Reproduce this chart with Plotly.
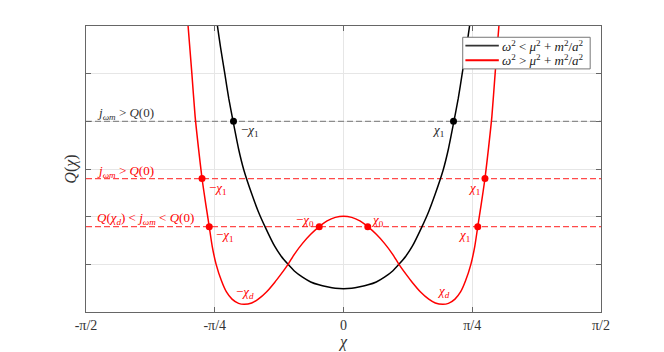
import math
import plotly.graph_objects as go

PI = math.pi

# ---- data (x in radians, y in axis units) ----
black_half_x = [0.0, 0.05, 0.10, 0.15, 0.20, 0.25, 0.30, 0.338, 0.38, 0.42, 0.476, 0.52, 0.56, 0.608,
                0.64, 0.673, 0.70, 0.724, 0.75, 0.769, 0.78]
black_half_y = [0.49, 0.50, 0.53, 0.57, 0.63, 0.73, 0.86, 1.00, 1.17, 1.38, 1.77, 2.11, 2.48, 2.98,
                3.42, 3.99, 4.48, 5.00, 5.55, 6.00, 6.30]

red_half_x = [0.0, 0.05, 0.10, 0.148, 0.20, 0.25, 0.30, 0.338, 0.38, 0.42, 0.47, 0.52, 0.56, 0.605,
              0.64, 0.68, 0.714, 0.745, 0.777, 0.80, 0.819, 0.84, 0.863, 0.885, 0.905, 0.925, 0.948, 0.96]
red_half_y = [2.01, 1.985, 1.91, 1.79, 1.63, 1.44, 1.21, 1.00, 0.80, 0.62, 0.42, 0.27, 0.19, 0.16,
              0.18, 0.27, 0.42, 0.66, 1.00, 1.36, 1.79, 2.26, 2.80, 3.45, 4.10, 5.00, 6.00, 6.50]

level_black = 4.0
level_red_hi = 2.80
level_red_lo = 1.79

black_pts_x = [-0.671, 0.671]
black_pts_y = [4.0, 4.0]
red_pts_x = [-0.863, 0.863, -0.819, 0.819, -0.148, 0.148]
red_pts_y = [2.80, 2.80, 1.79, 1.79, 1.79, 1.79]

x_tickvals = [-PI / 2, -PI / 4, 0, PI / 4, PI / 2]
x_ticktext = ["-π/2", "-π/4", "0", "π/4", "π/2"]
y_tickvals = [1, 2, 3, 4, 5]

series_names = [
    "<i>ω</i><sup>2</sup> < <i>μ</i><sup>2</sup> + <i>m</i><sup>2</sup>/<i>a</i><sup>2</sup>",
    "<i>ω</i><sup>2</sup> > <i>μ</i><sup>2</sup> + <i>m</i><sup>2</sup>/<i>a</i><sup>2</sup>",
]

# the curves are symmetric: mirror the read half
black_x = [-v for v in black_half_x[:0:-1]] + black_half_x
black_y = black_half_y[:0:-1] + black_half_y
red_x = [-v for v in red_half_x[:0:-1]] + red_half_x
red_y = red_half_y[:0:-1] + red_half_y

SERIF = "Liberation Serif, Times New Roman, serif"
RED = "#ff0000"

fig = go.Figure()

# dashed levels
fig.add_trace(go.Scatter(x=[-PI / 2, PI / 2], y=[level_black] * 2, mode="lines",
                         line=dict(color="#8c8c8c", width=1.3, dash="6px,3px"), showlegend=False, hoverinfo="skip"))
for lv in (level_red_hi, level_red_lo):
    fig.add_trace(go.Scatter(x=[-PI / 2, PI / 2], y=[lv] * 2, mode="lines",
                             line=dict(color="#ff4a4a", width=1.2, dash="6px,3px"), showlegend=False, hoverinfo="skip"))

fig.add_trace(go.Scatter(x=black_x, y=black_y, mode="lines", showlegend=False,
                         line=dict(color="black", width=1.5, shape="spline", smoothing=0.6),
                         name=series_names[0]))
fig.add_trace(go.Scatter(x=red_x, y=red_y, mode="lines", showlegend=False,
                         line=dict(color=RED, width=1.5, shape="spline", smoothing=0.6),
                         name=series_names[1]))

fig.add_trace(go.Scatter(x=black_pts_x, y=black_pts_y, mode="markers", marker=dict(color="black", size=7),
                         showlegend=False, hoverinfo="skip"))
fig.add_trace(go.Scatter(x=red_pts_x, y=red_pts_y, mode="markers", marker=dict(color=RED, size=7),
                         showlegend=False, hoverinfo="skip"))

jwm = "<i>j</i><sub><i>ωm</i></sub>"
anns = [
    (-1.517, 4.16, jwm + " > <i>Q</i>(0)", "#333333", "left"),
    (-1.517, 2.95, jwm + " > <i>Q</i>(0)", RED, "left"),
    (-1.517, 1.97, "<i>Q</i>(<i>χ</i><sub><i>d</i></sub>) < " + jwm + " < <i>Q</i>(0)", RED, "left"),
    (-0.572, 3.81, "−<i>χ</i><sub>1</sub>", "#222222", "center"),
    (0.578, 3.81, "<i>χ</i><sub>1</sub>", "#222222", "center"),
    (-0.767, 2.60, "−<i>χ</i><sub>1</sub>", RED, "center"),
    (-0.724, 1.61, "−<i>χ</i><sub>1</sub>", RED, "center"),
    (0.795, 2.59, "<i>χ</i><sub>1</sub>", RED, "center"),
    (0.737, 1.61, "<i>χ</i><sub>1</sub>", RED, "center"),
    (-0.236, 1.92, "−<i>χ</i><sub>0</sub>", RED, "center"),
    (0.209, 1.92, "<i>χ</i><sub>0</sub>", RED, "center"),
    (-0.599, 0.415, "−<i>χ</i><sub><i>d</i></sub>", RED, "center"),
    (0.609, 0.43, "<i>χ</i><sub><i>d</i></sub>", RED, "center"),
]
for x, y, t, c, xa in anns:
    fig.add_annotation(x=x, y=y, text=t, showarrow=False, xanchor=xa, yanchor="middle",
                       font=dict(family=SERIF, size=13, color=c))

# compact legend box (drawn in paper coordinates)
fig.add_shape(type="rect", xref="paper", yref="paper", x0=0.7315, x1=0.979, y0=0.850, y1=0.9606,
              line=dict(color="#777777", width=1), fillcolor="white", layer="above")
for (ly, col, name) in [(0.9312, "#333333", series_names[0]), (0.8803, RED, series_names[1])]:
    fig.add_shape(type="line", xref="paper", yref="paper", x0=0.7367, x1=0.8016, y0=ly, y1=ly,
                  line=dict(color=col, width=1.8), layer="above")
    fig.add_annotation(xref="paper", yref="paper", x=0.8035, y=ly, text=name, showarrow=False,
                       xanchor="left", yanchor="middle", font=dict(family=SERIF, size=13, color="#222222"))

fig.update_layout(
    width=664, height=352,
    margin=dict(l=86, r=63, t=26, b=40, autoexpand=False),
    paper_bgcolor="white", plot_bgcolor="white",
    font=dict(family=SERIF, color="#333333"),
    showlegend=False,
    xaxis=dict(range=[-PI / 2, PI / 2], tickvals=x_tickvals, ticktext=x_ticktext, automargin=False,
               showgrid=True, gridcolor="#e6e6e6", gridwidth=1, zeroline=False,
               showline=True, linecolor="#666666", linewidth=1, mirror="ticks",
               ticks="inside", ticklen=5, tickcolor="#666666",
               tickfont=dict(family=SERIF, size=14, color="#333333"),
               title=dict(text="<i>χ</i>", font=dict(family=SERIF, size=16, color="#333333"), standoff=4)),
    yaxis=dict(range=[0, 6], tickvals=y_tickvals, showticklabels=False, automargin=False,
               showgrid=True, gridcolor="#e6e6e6", gridwidth=1, zeroline=False,
               showline=True, linecolor="#666666", linewidth=1, mirror="ticks",
               ticks="inside", ticklen=5, tickcolor="#666666",
               title=dict(text="<i>Q</i>(<i>χ</i>)", font=dict(family=SERIF, size=16, color="#333333"), standoff=4)),
)

fig.write_html("out.html", config={"displayModeBar": False},
               post_script="document.body.style.margin='0';")
